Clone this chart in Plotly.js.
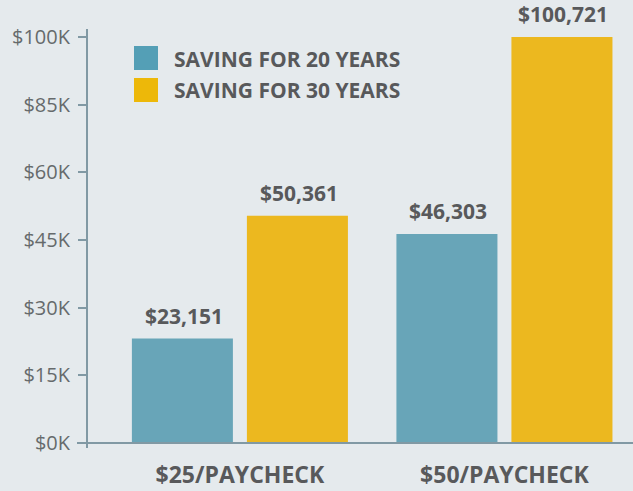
<!DOCTYPE html>
<html>
<head>
<meta charset="utf-8">
<script src="https://cdn.plot.ly/plotly-3.0.1.min.js"></script>
<style>
  html, body { margin: 0; padding: 0; background: #e5eaed; }
  #chart { width: 633px; height: 491px; }
</style>
</head>
<body>
<div id="chart"></div>
<script>
// ---- data ----
const categories = ['$25/PAYCHECK', '$50/PAYCHECK'];
const seriesNames = ['SAVING FOR 20 YEARS', 'SAVING FOR 30 YEARS'];
const saving20 = [23151, 46303];
const saving30 = [50361, 100721];
const tickVals = [0, 15000, 30000, 45000, 60000, 75000, 90000];
const tickText = ['$0K', '$15K', '$30K', '$45K', '$60K', '$85K', '$100K'];

// ---- style ----
const bg = '#e5eaed';
const blue = '#68a5b8';
const yellow = '#ecb81f';
const legendBlue = '#549fb6';
const legendYellow = '#edb809';
const axisColor = '#8199a4';
const textDark = '#58595b';
const yMax = 90000;
const fam = '"Open Sans", "DejaVu Sans", sans-serif';

const fmt = v => '$' + v.toLocaleString('en-US');

const traces = [
  { type: 'bar', x: categories, y: saving20, name: seriesNames[0],
    marker: { color: blue }, hoverinfo: 'none', showlegend: false },
  { type: 'bar', x: categories, y: saving30, name: seriesNames[1],
    marker: { color: yellow }, hoverinfo: 'none', showlegend: false }
];

const annotations = [];
const series = [saving20, saving30];
const shiftX = [-56, 59];
series.forEach((vals, s) => {
  vals.forEach((v, i) => {
    annotations.push({
      x: categories[i], y: Math.min(v, yMax), xref: 'x', yref: 'y',
      xshift: shiftX[s], yshift: 7,
      text: fmt(v), showarrow: false, yanchor: 'bottom', xanchor: 'center',
      font: { family: fam, size: 21, color: textDark, weight: 700 }
    });
  });
});
// legend labels
const legendColors = [legendBlue, legendYellow];
const legendY = [0.9463, 0.8683];
seriesNames.forEach((n, k) => {
  annotations.push({
    x: 0.1557, y: legendY[k], xref: 'paper', yref: 'paper',
    text: n, showarrow: false, xanchor: 'left', yanchor: 'middle',
    font: { family: fam, size: 21, color: textDark, weight: 700 }
  });
});

const shapes = [
  // y axis line (extends slightly beyond plot area)
  { type: 'line', xref: 'paper', yref: 'paper', x0: 0, x1: 0, y0: -0.0123, y1: 1.0197,
    line: { color: axisColor, width: 2 } },
  // x axis line
  { type: 'line', xref: 'paper', yref: 'paper', x0: -0.0183, x1: 1, y0: 0, y1: 0,
    line: { color: axisColor, width: 2 } },
  // legend swatches
  { type: 'rect', xref: 'paper', yref: 'paper', x0: 0.0861, x1: 0.1300, y0: 0.9187, y1: 0.9778,
    fillcolor: legendColors[0], line: { width: 0 } },
  { type: 'rect', xref: 'paper', yref: 'paper', x0: 0.0861, x1: 0.1300, y0: 0.8399, y1: 0.8990,
    fillcolor: legendColors[1], line: { width: 0 } }
];

const layout = {
  width: 633, height: 491,
  paper_bgcolor: bg, plot_bgcolor: bg,
  margin: { l: 87, r: 0, t: 37, b: 48, pad: 0 },
  barmode: 'group', bargap: 0.1304, bargroupgap: 0.1217,
  showlegend: false,
  xaxis: {
    type: 'category', range: [-0.578, 1.486],
    showline: false, showgrid: false, zeroline: false, ticks: '',
    ticklabelstandoff: 16,
    tickfont: { family: fam, size: 23, color: textDark, weight: 700 }
  },
  yaxis: {
    range: [0, yMax], tickvals: tickVals, ticktext: tickText,
    showline: false, showgrid: false, zeroline: false,
    ticks: 'outside', ticklen: 8, tickwidth: 2, tickcolor: axisColor,
    ticklabelstandoff: 4,
    tickfont: { family: fam, size: 20, color: '#666a6c' }
  },
  yaxis2: {
    overlaying: 'y', side: 'left', range: [0, yMax], tickvals: tickVals,
    showticklabels: false, showline: false, showgrid: false, zeroline: false,
    ticks: 'inside', ticklen: 9, tickwidth: 2, tickcolor: axisColor
  },
  annotations: annotations,
  shapes: shapes
};

Plotly.newPlot('chart', traces, layout, { staticPlot: true, displayModeBar: false });
</script>
</body>
</html>
